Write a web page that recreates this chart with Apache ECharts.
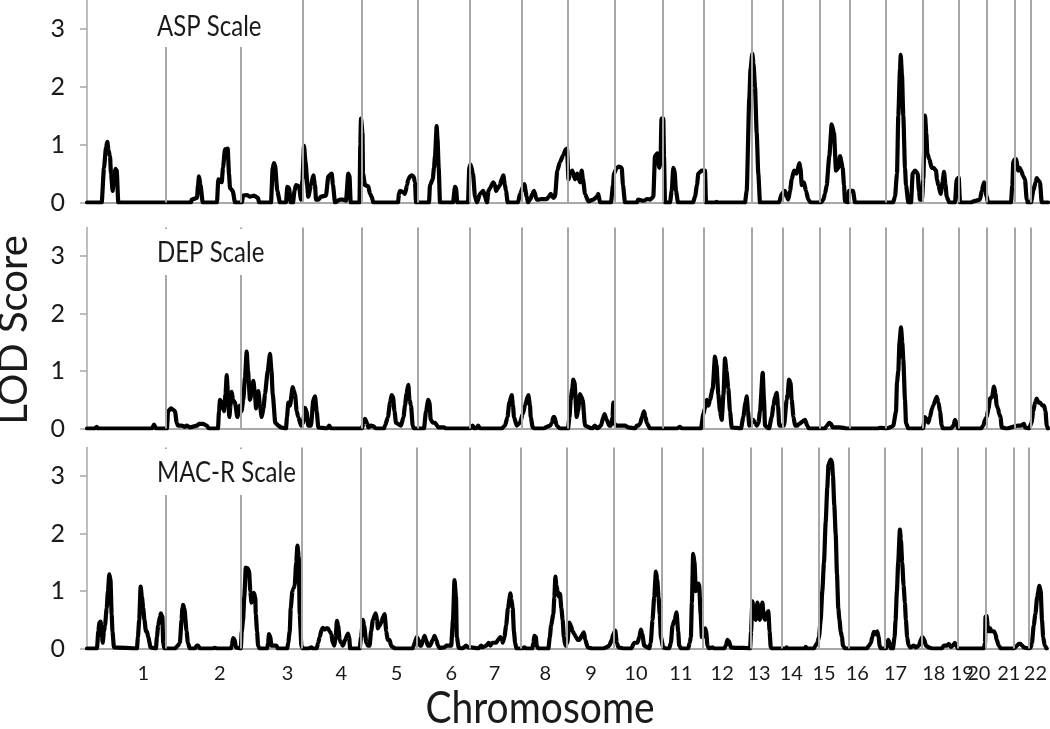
<!DOCTYPE html>
<html>
<head>
<meta charset="utf-8">
<script src="https://cdn.jsdelivr.net/npm/echarts@6/dist/echarts.min.js"></script>
<style>
html,body{margin:0;padding:0;background:#fff;}
#chart{width:1050px;height:729px;}
</style>
</head>
<body>
<div id="chart"></div>
<script>
// Genome position (scaled units, 0..961) of chromosome boundaries
const chromBoundaries = [78.7,154,215.3,274.3,330.3,383,434.7,480.3,527.3,575.7,616.7,664.3,696,732.7,762.3,799,835.7,872,900,928,943.3];
const genomeEnd = 961;
const chromLabels = ['1','2','3','4','5','6','7','8','9','10','11','12','13','14','15','16','17','18','19','20','21','22'];
const chromLabelPos = [56.3,133,200.7,254.7,310,364.7,408,459,504.7,549.7,594.7,636,673,705.3,738,771.3,809.7,848,876.5,893,923,949.7];
const yTicks = [0,1,2,3];
const panelTitles = ['ASP Scale','DEP Scale','MAC-R Scale'];

// LOD scores: [genome position, LOD]
const aspLOD = [[0,0],[14.7,0],[17,0.6],[19,0.95],[20.3,1.05],[21.5,0.9],[23,0.8],[24,0.5],[25.7,0.2],[27,0.45],[28.5,0.58],[29.7,0.55],[31.3,0],
[104,0],[104.7,0.05],[110,0.08],[111,0.3],[112,0.45],[113.5,0.3],[115.7,0],[130,0],[131.3,0.4],[133,0.38],[134.7,0.35],[136,0.6],[138,0.92],[140.7,0.93],[142,0.5],[143,0.25],[145.7,0.2],[148,0],
[155,0],[156,0.12],[160,0.13],[163,0.1],[167,0.12],[171,0.08],[172,0],[184,0],[185.7,0.6],[187,0.68],[188,0.65],[190.3,0.2],[193,0],[199,0],[200.3,0.27],[202,0.25],[203.7,0],[206,0],[207.5,0.2],[209,0.3],[212,0.28],[214,0.05],[215.5,0.4],[217,0.98],[218.5,0.7],[221.3,0.1],
[224,0.3],[226.3,0.47],[228,0.3],[229,0.05],[231.3,0.05],[234,0.1],[239,0.12],[241.3,0.45],[244.7,0.5],[246,0.3],[248,0],[253,0.05],[256,0.05],[259,0.03],[261.3,0.5],[262.5,0.45],[263.7,0],[272.5,0],[273.3,1.0],[274,1.45],[275.5,1.2],[276,0.5],[278,0.3],[281.3,0.28],[283,0.15],[284.7,0.1],[286.3,0],
[311,0],[312,0.15],[313,0.2],[316,0.18],[318,0.15],[320,0.3],[321.3,0.4],[323,0.45],[324.7,0.47],[326.5,0.45],[328,0.35],[329,0],
[342,0],[343,0.3],[345.7,0.4],[347,0.6],[348,0.8],[349.7,1.32],[350.5,1.1],[351.7,0.6],[353,0],[366,0],[368,0.27],[369,0.25],[370.3,0],[381,0],[382.3,0.6],[383.5,0.66],[386,0.5],[388,0.1],
[390,0],[393,0.15],[396.3,0.2],[398,0.1],[400,0],[401.5,0.2],[403,0.25],[406.3,0.35],[408,0.3],[409,0.2],[411,0.25],[413,0.3],[414.5,0.4],[416.3,0.47],[418,0.3],[419,0.2],[420.7,0],[431,0],[433,0.15],[437.3,0.32],[439.7,0.1],[441,0],[443,0.05],[445.5,0.15],[447,0.2],[449.7,0.05],[452,0.05],[454.7,0.06],[459.7,0.06],[462,0.1],[463.7,0.15],[466.3,0.08],[468,0.1],[470.3,0.55],[473,0.7],[476.3,0.82],[478.7,0.92],[480,0.93],[481.5,0.4],
[483,0.5],[485.3,0.55],[488,0.4],[490.3,0.5],[493,0.35],[494.7,0.55],[496,0.4],[498,0.15],[501.3,0.02],[506.3,0.05],[510,0.1],[511.3,0.15],[513,0],[524,0],[526,0.3],[527,0.5],[529.7,0.6],[532,0.62],[534.7,0.6],[536,0.3],[538,0],
[550,0],[551,0.05],[557,0.03],[560,0.06],[563,0.05],[565,0.08],[566.3,0.1],[568,0.8],[570.3,0.85],[572.3,0.6],[573.5,0.7],[574.5,1.45],[576.3,1.45],[577,0.8],[578,0],
[583,0],[584.7,0.2],[586.3,0.6],[587.5,0.55],[589,0.2],[591,0],[606,0],[608,0.1],[610,0.3],[611.3,0.5],[614.7,0.55],[618,0.55],[619,0],
[628,0],[629.7,0.01],[631,0],[658,0],[659.7,0.2],[662.3,1.8],[663.5,2.3],[665.3,2.57],[666.5,2.4],[668,2.0],[669.7,1.2],[671.3,0.5],[673,0],
[692,0],[694.7,0.15],[698,0.2],[699.5,0.1],[701.3,0.05],[703,0.2],[704.7,0.4],[707,0.55],[709.7,0.5],[712.3,0.68],[713.5,0.6],[714.7,0.3],[717,0.35],[719,0.2],[721.3,0.05],[723.7,0],
[734,0],[736.3,0.05],[738,0.15],[739.7,0.3],[742.3,0.8],[744.7,1.35],[747,1.2],[749,0.55],[751.3,0.6],[753,0.8],[755.7,0.6],[757,0.3],[758,0.02],[761,0],[762,0.2],[766,0.2],[768,0],
[806,0],[808,0.1],[810,0.5],[811.3,1.5],[813,2.3],[813.7,2.55],[815,2.2],[816.3,1.5],[818,0.6],[819,0.3],[821.3,0],[824,0],[825.7,0.5],[828,0.55],[830.7,0.5],[832,0.2],[833,0.05],[835,0.05],[836.3,0.4],[838,1.5],[839.3,1.2],[840.3,0.85],[842.3,0.75],[844.7,0.6],[846.5,0.6],[849,0.55],[850,0.4],[851.3,0.3],[853.7,0.15],[855.5,0.35],[857,0.53],[858.5,0.3],[859.7,0.1],[862.3,0],[868,0],[869.7,0.4],[871.7,0.43],[873,0],
[884,0],[886.3,0.02],[893,0.05],[894.7,0.2],[897,0.35],[899.7,0.1],[901,0],
[924,0],[925.3,0.3],[926.3,0.7],[927.5,0.74],[929,0.75],[931.3,0.55],[932.5,0.6],[934,0.56],[936.3,0.45],[938,0.4],[939.7,0.05],[940.5,0],[944,0],[946.3,0.2],[948.5,0.35],[949.7,0.42],[951.5,0.38],[953,0.35],[954.7,0],[961,0]];

const depLOD = [[0,0],[8,0],[9.7,0.03],[11,0],[65,0],[67,0.07],[69,0],[80,0],[81,0.3],[84,0.35],[86,0.33],[88,0.3],[89.7,0.1],[91,0.05],[94.7,0.05],[98,0.03],[99.7,0.05],[103,0.02],[110,0.05],[112,0.08],[116,0.08],[119.7,0.05],[122,0],
[131,0],[132,0.3],[133,0.5],[135,0.45],[137,0.3],[138.5,0.6],[139.7,0.93],[141,0.6],[142.3,0.2],[143.5,0.4],[144.7,0.64],[146,0.5],[148,0.45],[150.3,0.2],[153,0.4],[154.5,0.3],[156.3,0.5],[158,0.9],[159.7,1.34],[161,1.0],[163,0.5],[164.5,0.6],[166.3,0.83],[168,0.6],[169,0.35],[171.3,0.65],[173,0.4],[174.7,0.2],[176.5,0.35],[178,0.6],[180.7,1.0],[183,1.3],[184.5,1.0],[185.7,0.6],[188.3,0.1],[191.3,0.05],[194,0.02],
[199,0],[200,0.2],[201.3,0.45],[203,0.4],[205.7,0.72],[207,0.65],[208,0.6],[209.7,0.3],[211.3,0.2],[214,0.05],[216,0.1],[218,0.36],[219.5,0.3],[221.3,0.05],[224,0.05],[226.3,0.5],[228,0.56],[229.7,0.3],[231.3,0.02],[240,0],[242.3,0.05],[244,0],
[275,0],[276.5,0.1],[278,0.17],[280,0.1],[281.3,0.02],[284,0.05],[286.3,0.04],[289,0],[297,0],[298,0.05],[301,0.2],[303,0.45],[304.7,0.58],[306,0.55],[307.5,0.3],[309,0.1],[314,0.05],[316.5,0.2],[318,0.4],[319.5,0.6],[321.3,0.76],[322.5,0.5],[324,0.4],[325.7,0.05],[327,0],
[337,0],[339,0.3],[341.3,0.5],[342.5,0.45],[343.7,0.15],[346,0.1],[348,0.1],[351.3,0.02],[357,0.02],[359,0],[383,0],[385.7,0.05],[387,0],[389,0],[391.3,0.05],[393,0],
[415,0],[416.5,0.03],[418,0.05],[420.5,0.2],[422.3,0.45],[424.7,0.58],[426,0.4],[427,0.2],[429.7,0.05],[433,0.1],[435.7,0.25],[438,0.4],[441.3,0.58],[443,0.4],[443.7,0.2],[445.7,0.02],[448,0],
[457,0],[459.7,0.03],[463,0.05],[465,0.1],[466.3,0.2],[467.5,0.2],[469.7,0.05],[473,0],[481,0],[482.5,0.2],[483.7,0.5],[485.3,0.7],[486.3,0.85],[487.5,0.8],[489.7,0.2],[491,0.3],[493,0.6],[494.5,0.55],[495.7,0.5],[498,0.05],[505,0],[508,0.05],[510,0],[514,0.05],[516.3,0.2],[517.5,0.25],[519.7,0.15],[522.3,0.05],[524,0.05],[525.5,0.2],[526.3,0.45],[527,0.1],[529,0.05],[538,0.05],[541.3,0.02],
[548,0],[549.7,0.05],[551,0.05],[553,0.08],[555,0.2],[557,0.3],[558.5,0.2],[559.7,0.1],[563,0],[590,0],[593,0.03],[595,0],
[614,0],[616.3,0.25],[618,0.35],[619.7,0.5],[621.5,0.4],[623,0.5],[625.7,0.7],[628,1.25],[629.5,1.1],[631.3,0.6],[633,0.3],[634.7,0.15],[636.5,0.6],[638,1.22],[639.5,1.0],[641.3,0.7],[643,0.3],[644.7,0.02],[654,0],[656.3,0.2],[658.5,0.45],[659.7,0.56],[661,0.3],[662.3,0.05],[664,0.1],[666.3,0.15],[668,0.1],[669.7,0.05],[671.5,0.1],[673,0.3],[675.7,0.97],[677,0.5],[678,0.05],
[682,0],[684.7,0.2],[686.5,0.4],[688,0.55],[689.7,0.62],[691,0.4],[692.3,0.05],[697,0.05],[699.7,0.5],[700.7,0.6],[702,0.85],[703.5,0.8],[704.7,0.5],[706.5,0.2],[708,0.05],[710.3,0.05],[712,0.08],[718,0.15],[720.3,0.05],[722,0],
[738,0],[740,0.05],[742.3,0.1],[744,0.08],[745.7,0.02],[753,0.02],[760,0],[790,0],[793,0.01],[800,0],[804.5,0.03],[806.3,0.05],[809,0.3],[810,0.8],[811.3,1.0],[812.5,1.5],[814,1.76],[815.3,1.5],[816.3,1.2],[818,0.5],[819,0.1],[821.3,0],
[836,0],[838,0.2],[840,0.15],[841.3,0.1],[843,0.2],[845,0.35],[846.3,0.4],[849.7,0.55],[851.5,0.45],[853,0.3],[854.7,0.05],[856,0],[864,0],[866.5,0.05],[868,0.15],[869.5,0.1],[871,0],
[894,0],[896.3,0.05],[898,0.15],[899.7,0.2],[901.5,0.35],[903,0.52],[905,0.55],[907,0.73],[908.5,0.6],[909.7,0.4],[911,0.35],[912.3,0.25],[913.5,0.2],[914.7,0.02],[920,0],[931,0.05],[934,0.05],[937,0.08],[938,0.02],
[942,0],[944.5,0.1],[946.3,0.3],[948,0.45],[949.7,0.52],[951.5,0.45],[953,0.45],[955.5,0.4],[957,0.4],[958.5,0.3],[959.7,0.05],[961,0]];

const macrLOD = [[0,0],[10,0],[11.3,0.3],[12.5,0.45],[13.7,0.47],[15,0.2],[15.7,0.1],[17,0.3],[18,0.4],[19.7,0.7],[21,1.0],[22.3,1.29],[23.5,1.2],[24.7,0.6],[25.5,0.3],[27,0.02],
[50,0],[51,0.2],[52.3,0.5],[53.7,1.08],[55,0.9],[56.3,0.7],[57.5,0.5],[59,0.3],[60,0.3],[61.3,0.2],[63.7,0.02],[69,0],[70,0.2],[71.3,0.4],[73,0.55],[74,0.61],[75.5,0.55],[76.3,0.1],[77.5,0],
[88,0],[91,0.05],[93,0.1],[94.7,0.5],[95.5,0.7],[96.3,0.76],[97.5,0.7],[99.7,0.3],[101,0.1],[103,0],[108,0],[110,0.05],[111.3,0.05],[113,0],[125,0],[128,0.01],[131,0],[144,0],[145,0.05],[146.3,0.18],[148,0.15],[149,0.02],
[154,0],[155,0.3],[156.3,0.5],[157.5,0.9],[159,1.41],[160.7,1.4],[162.3,1.35],[163.5,1.0],[164.7,0.8],[166,0.85],[167,0.97],[168.5,0.9],[169,0.6],[170.3,0.3],[171.3,0.05],[173,0],[180.5,0],[181.3,0.1],[182.3,0.25],[183.5,0.2],[184.7,0.05],[187,0.05],[189.7,0.05],[191,0],
[200.5,0],[201.5,0.1],[203,0.3],[204,0.7],[205.7,1.0],[207,1.05],[208,1.1],[209.5,1.5],[210.7,1.79],[212,1.6],[213,0.6],[214.7,0.05],[216,0],
[222,0],[224.7,0.02],[226,0],[230,0],[231.5,0.1],[233,0.2],[235,0.33],[236.3,0.36],[238,0.33],[239.7,0.35],[241.3,0.35],[243,0.3],[244.7,0.25],[246,0.1],[247.7,0.05],[249,0.2],[250.3,0.48],[251.5,0.4],[253,0.15],[254.5,0.1],[256.3,0.05],[258.5,0.15],[261.3,0.26],[262.5,0.2],[263.5,0],
[273,0],[274.5,0.2],[276.3,0.5],[277.5,0.4],[279.7,0.1],[281.5,0.05],[283,0.05],[284.5,0.3],[286.3,0.5],[289,0.61],[290.5,0.5],[291.3,0.35],[293,0.4],[294.7,0.45],[296.5,0.55],[298,0.6],[299.7,0.3],[301,0.15],[303,0.15],[304.5,0.05],[305.7,0.03],[309,0],
[326,0],[327.2,0.05],[328,0.1],[330.3,0.2],[332,0.15],[333.5,0.05],[334.7,0.05],[336.5,0.15],[338,0.22],[339.5,0.15],[341.3,0.05],[343.5,0.05],[346.3,0.15],[348,0.22],[349.7,0.15],[351.5,0.05],[353,0.01],[358,0.02],[359.7,0.05],[363,0.05],[364.7,0.05],[366.5,0.5],[368,1.19],[369.5,0.9],[370.3,0.2],[372.3,0.01],[376,0],[379.7,0.05],[381.5,0.02],[384.7,0.02],
[392,0],[394.7,0.05],[396,0.02],[400,0.05],[402.3,0.1],[404,0.05],[405.7,0.1],[408,0.1],[409.7,0.1],[411.5,0.15],[414,0.2],[415.5,0.15],[416.3,0.1],[418,0.2],[419.7,0.4],[421.5,0.7],[424,0.96],[425,0.85],[426.3,0.7],[427.5,0.3],[428.7,0.1],[430,0],
[436,0],[438,0.02],[440,0],[446,0],[447,0.1],[448,0.22],[449.5,0.2],[450.3,0.05],[452,0],[462,0],[463.5,0.2],[464.7,0.4],[467,0.6],[468,0.9],[469,1.25],[470,1.1],[471.3,1.0],[472.5,0.9],[473.7,0.95],[475,0.7],[476.3,0.5],[477.5,0.2],[479,0.05],
[481,0.1],[483,0.45],[484.5,0.4],[486.3,0.3],[488,0.25],[489.7,0.2],[491.5,0.15],[493,0.15],[496,0.24],[497.5,0.28],[499,0.15],[501.3,0.02],[506,0],[517,0],[520,0.02],[523,0.05],[525.5,0.15],[527,0.25],[529,0.31],[530.5,0.1],[532.3,0.02],[538,0],
[545,0],[548,0.1],[550,0.1],[551.3,0.1],[553,0.2],[554.7,0.33],[556,0.25],[558,0.05],[561.3,0.02],[563,0],[564.5,0.1],[566.3,0.5],[568,0.9],[569.7,1.34],[571,1.2],[572.3,0.9],[573.5,0.6],[574.7,0.2],[577,0.02],[580,0],
[583,0],[584.7,0.1],[586.3,0.4],[588.5,0.5],[590.3,0.63],[592,0.3],[593,0.05],[595,0],[602,0],[603.5,0.1],[604.7,0.2],[605.7,0.8],[607,1.65],[608.3,1.5],[609.7,1.0],[611,1.1],[612.3,1.13],[613,1.1],[614.5,0.6],[615.7,0.2],[617,0.2],[619,0.35],[620,0.3],[621.3,0.05],[623,0],[626.3,0.02],[628,0],[638,0],[639.7,0.05],[641.3,0.15],[643,0.12],[644.7,0.02],[650,0.01],[657,0.01],[664,0],
[665,0.3],[666.3,0.82],[668,0.6],[669.7,0.5],[670.5,0.6],[671.3,0.8],[673.7,0.5],[675,0.6],[676.3,0.8],[677.7,0.55],[679,0.5],[680.5,0.6],[682.3,0.65],[683.5,0.3],[684.7,0.02],[686,0],[699.7,0],[700.5,0.02],[702,0],[719,0],[719.7,0.03],[721,0],
[728,0],[729.5,0.05],[731.3,0.1],[733,0.2],[734.7,0.5],[736.3,1.0],[738,1.5],[739.7,2.2],[741.3,2.8],[742.5,3.2],[744.7,3.29],[746,3.25],[747,3.0],[748.3,2.5],[749.7,2.0],[751,1.3],[752.3,0.7],[753.5,0.5],[754.7,0.3],[756,0.2],[757,0.05],[759,0],
[781,0],[783,0.05],[785,0.1],[786.3,0.2],[788,0.29],[789.7,0.25],[791.3,0.3],[792.7,0.2],[793.7,0.05],[795,0],[800,0],[801,0.05],[802.3,0.15],[803.7,0.1],[805,0],
[807,0],[808.7,0.2],[809.7,0.5],[811,1.0],[812.3,1.5],[814,2.07],[815,1.9],[816.3,1.5],[817.7,1.1],[819,0.8],[820,0.5],[821.3,0.2],[822.7,0.05],[824.7,0.02],[828,0.05],[830,0.02],[833,0.05],[835,0.15],[836.3,0.2],[837.5,0.18],[838.5,0.15],[840,0.05],[843,0.02],[846,0],
[856,0],[858,0.05],[861,0.05],[863,0.08],[865,0.03],[867,0.05],[869,0.1],[870.5,0.05],[872,0],
[898,0],[899.3,0.1],[899.7,0.55],[900.7,0.57],[902,0.4],[903,0.3],[904.5,0.35],[905.5,0.3],[907,0.3],[908.3,0.3],[909.7,0.25],[911,0.15],[913,0.05],[915,0],[928,0],[929.5,0.02],[931.3,0.05],[933,0.08],[934.7,0.08],[936.5,0.05],[938,0.02],
[943,0],[945,0.02],[946.3,0.1],[948,0.4],[949.7,0.6],[951.5,0.9],[953.7,1.09],[955,1.0],[956.3,0.5],[957.5,0.2],[959,0.05],[961,0]];

const panels = [aspLOD, depLOD, macrLOD];

const FONT = 'Lato, "Open Sans", sans-serif';
const gridTops = [0, 227.5, 447.5];
const gridHeights = [202.5, 201, 201];
const titleBoxes = [
  {y: 0, h: 47, w: 140, ty: 27},
  {y: 229, h: 46, w: 140, ty: 253},
  {y: 449, h: 46, w: 150, ty: 473}
];

const grid = [], xAxis = [], yAxis = [], series = [], graphic = [];
panels.forEach((data, i) => {
  grid.push({left: 87, width: 961, top: gridTops[i], height: gridHeights[i]});
  xAxis.push({
    type: 'value', gridIndex: i, min: 0, max: genomeEnd,
    offset: 2,
    axisLine: {show: true, lineStyle: {color: '#a8a8a8', width: 2}},
    axisTick: {show: false},
    splitLine: {show: false},
    axisLabel: i === 2 ? {
      show: true, customValues: chromLabelPos, margin: 13,
      formatter: v => chromLabels[chromLabelPos.indexOf(v)],
      fontFamily: FONT, fontSize: 20, color: '#1a1a1a'
    } : {show: false}
  });
  yAxis.push({
    type: 'value', gridIndex: i, min: 0, max: 3.5,
    axisLine: {show: true, lineStyle: {color: '#a8a8a8', width: 1.5}},
    axisTick: {show: true, length: 7, customValues: yTicks, lineStyle: {color: '#a8a8a8', width: 1.5}},
    splitLine: {show: false},
    axisLabel: {customValues: yTicks, margin: 22, fontFamily: FONT, fontSize: 25, color: '#1a1a1a'}
  });
  series.push({
    type: 'line', xAxisIndex: i, yAxisIndex: i, data: [], z: 1, silent: true,
    markLine: {
      silent: true, symbol: ['none', 'none'], label: {show: false},
      lineStyle: {color: '#a8a8a8', width: 2, type: 'solid'},
      emphasis: {disabled: true},
      data: chromBoundaries.map(v => ({xAxis: v}))
    }
  });
  series.push({
    type: 'line', xAxisIndex: i, yAxisIndex: i, data: data, z: 3,
    showSymbol: false, symbol: 'none', smooth: 0.2, smoothMonotone: 'x',
    lineStyle: {color: '#000', width: 4.2, join: 'round', cap: 'round'}
  });
  const b = titleBoxes[i];
  graphic.push({type: 'rect', left: 150, top: b.y, shape: {width: b.w, height: b.h}, style: {fill: '#fff'}, z: 10});
  graphic.push({type: 'text', x: 157, y: b.ty, scaleY: 1.2, z: 11,
    style: {text: panelTitles[i], font: '24px ' + FONT, fill: '#1a1a1a', textAlign: 'left', textVerticalAlign: 'middle'}});
});

graphic.push({type: 'text', x: 14, y: 330, rotation: Math.PI / 2, z: 11,
  style: {text: 'LOD Score', font: '40px ' + FONT, fill: '#1a1a1a', textAlign: 'center', textVerticalAlign: 'middle'}});
graphic.push({type: 'text', x: 540, y: 709, scaleY: 1.12, z: 11,
  style: {text: 'Chromosome', font: '39px ' + FONT, fill: '#1a1a1a', textAlign: 'center', textVerticalAlign: 'middle'}});

const chart = echarts.init(document.getElementById('chart'), null, {renderer: 'canvas'});
chart.setOption({
  animation: false,
  backgroundColor: '#fff',
  grid, xAxis, yAxis, series, graphic
});
</script>
</body>
</html>
